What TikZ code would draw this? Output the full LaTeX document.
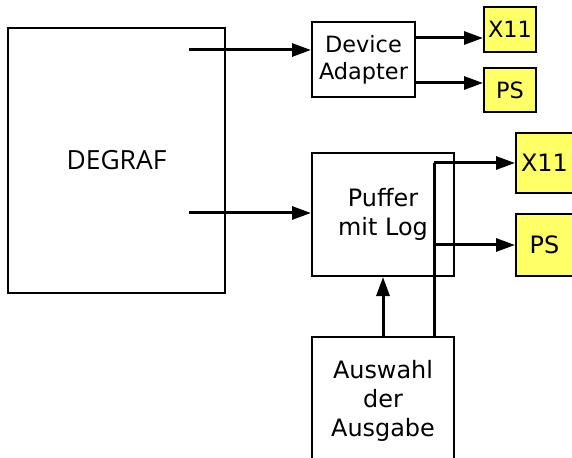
\documentclass[tikz,border=0pt]{standalone}
\usepackage{fontspec}
\setmainfont{DejaVu Sans}
\newfontfamily\degraffont{Open Sans}
\usetikzlibrary{arrows.meta}
\definecolor{outyellow}{RGB}{255,255,102}
\tikzset{
  box/.style={draw=black, line width=2bp, fill=white, inner sep=0pt, align=center},
  outbox/.style={box, fill=outyellow},
  arr/.style={line width=3bp, -{Triangle[length=19bp,width=13bp]}},
  ln/.style={line width=3bp},
  smalltxt/.style={font=\fontsize{22.5}{27}\selectfont},
  bigtxt/.style={font=\fontsize{24}{29}\selectfont},
}
\begin{document}
\begin{tikzpicture}[x=1bp,y=-1bp]
\useasboundingbox (0,0) rectangle (572,458);
% boxes
\node[box, minimum width=217bp, minimum height=265bp, font=\degraffont\fontsize{26.5}{30}\selectfont] (deg) at (116.5,160.5) {DEGRAF};
\node[box, smalltxt, minimum width=103bp, minimum height=75bp] (da) at (363.5,59.5) {Device\\Adapter};
\node[outbox, smalltxt, minimum width=52bp, minimum height=45bp] (x1) at (510,29.5) {X11};
\node[outbox, smalltxt, minimum width=52bp, minimum height=44bp] (p1) at (510,90) {PS};
\node[box, bigtxt, minimum width=142bp, minimum height=123bp] (puf) at (383,214.5) {Puffer\\mit Log};
\node[outbox, bigtxt, minimum width=57bp, minimum height=60bp] (x2) at (544.5,163) {X11};
\node[outbox, bigtxt, minimum width=57bp, minimum height=62bp] (p2) at (544.5,245) {PS};
\node[box, bigtxt, minimum width=142bp, minimum height=128bp] (aus) at (383,401) {Auswahl\\der\\Ausgabe};
% connector points
\coordinate (s1) at (189,50);
\coordinate (s2) at (189,213);
\coordinate (c1) at (0,38);
\coordinate (c2) at (0,83);
\coordinate (j1) at (434,163);
\coordinate (j2) at (434,245);
% connectors
\draw[arr] (s1) -- (da.west |- s1);
\draw[arr] (s2) -- (puf.west |- s2);
\draw[arr] (da.east |- c1) -- (x1.west |- c1);
\draw[arr] (da.east |- c2) -- (p1.west |- c2);
\draw[arr] (aus.north) -- (puf.south);
\draw[ln] (aus.north -| j1) -- (j1);
\draw[arr] (j1) -- (x2.west |- j1);
\draw[arr] (j2) -- (p2.west |- j2);
\end{tikzpicture}
\end{document}
